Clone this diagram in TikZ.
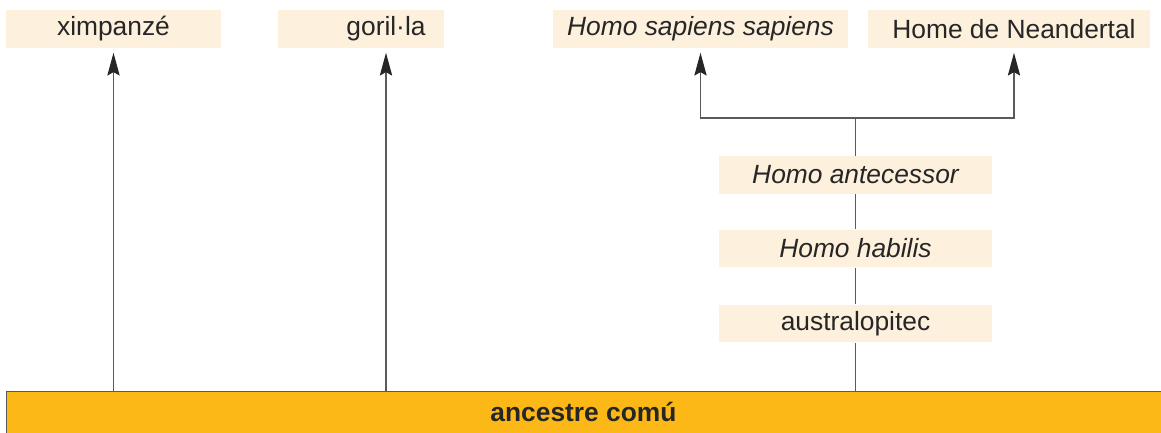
\documentclass[tikz,border=0pt]{standalone}
\usepackage{fontspec}
\setmainfont{Liberation Sans}
\usetikzlibrary{arrows.meta}
\definecolor{boxfill}{HTML}{FDF0DC}
\definecolor{barfill}{HTML}{FBB817}
\definecolor{linegray}{HTML}{5A5A5A}
\definecolor{textgray}{HTML}{262626}
\begin{document}
\begin{tikzpicture}[
		x=0.02cm, y=-0.02cm,
		every node/.style={font=\fontsize{15}{18}\selectfont, text=textgray, inner sep=0pt},
		species/.style={fill=boxfill, minimum height=0.76cm},
		trunk/.style={fill=barfill, draw=linegray, line width=0.6pt, minimum height=1cm, anchor=north west},
		branch/.style={draw=linegray, line width=0.7pt},
		up/.style={branch, shorten >=2.5pt, -{Stealth[length=13pt, width=7pt, inset=2pt, color=black!85]}}
	]
	\useasboundingbox (0,0) rectangle (1161,433);
	% common ancestor
	\node[trunk, minimum width=23.3cm] (ancestre) at (6,391) {};
	\node[font=\fontsize{15}{18}\selectfont\bfseries] (ancestrelabel) at (583.5,412) {ancestre comú};
	% living apes
	\node[species, minimum width=4.3cm] (ximp) at (113.5,29) {ximpanzé};
	\node[species, minimum width=3.32cm] (gorilbox) at (361,29) {};
	\node (goril) at (386,29) {goril·la};
	% human line
	\node[species, minimum width=5.9cm] (sapiens) at (700.5,29) {\itshape Homo sapiens sapiens};
	\node[species, minimum width=5.64cm] (neandbox) at (1009,29) {};
	\node (neand) at (1014,29) {Home de Neandertal};
	\node[species, minimum width=5.46cm] (antec) at (855.5,175) {\itshape Homo antecessor};
	\node[species, minimum width=5.46cm] (habilis) at (855.5,248.5) {\itshape Homo habilis};
	\node[species, minimum width=5.46cm] (austr) at (855.5,323.5) {australopitec};
	\coordinate (split) at (855.5,118);
	% connectors
	\draw[up] (ancestre.north -| ximp) -- (ximp.south);
	\draw[up] (ancestre.north -| goril) -- (goril |- gorilbox.south);
	\draw[branch] (ancestre.north -| austr) -- (austr.south);
	\draw[branch] (austr.north) -- (habilis.south);
	\draw[branch] (habilis.north) -- (antec.south);
	\draw[branch] (antec.north) -- (split);
	\draw[up] (split) -| (sapiens.south);
	\draw[up] (split) -| (neand |- neandbox.south);
\end{tikzpicture}
\end{document}
